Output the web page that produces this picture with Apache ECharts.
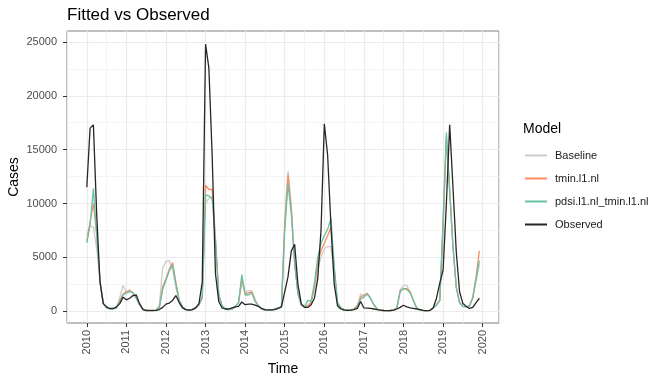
<!DOCTYPE html>
<html>
<head>
<meta charset="utf-8">
<script src="https://cdn.jsdelivr.net/npm/echarts@6/dist/echarts.min.js"></script>
<style>
html,body{margin:0;padding:0;background:#fff;}
#chart{width:672px;height:384px;}
</style>
</head>
<body>
<div id="chart"></div>
<script>
// Monthly series, Jan 2010 .. Dec 2019
const startYear = 2010;
const yearTicks = [2010, 2011, 2012, 2013, 2014, 2015, 2016, 2017, 2018, 2019, 2020];
const caseTicks = [0, 5000, 10000, 15000, 20000, 25000];
const seriesNames = ['Baseline', 'tmin.l1.nl', 'pdsi.l1.nl_tmin.l1.nl', 'Observed'];

const baseline = [
  7100, 7900, 7800, 5800, 2800, 700, 300, 200, 200, 300, 1300, 2400,
  1700, 1800, 1700, 1200, 600, 200, 100, 80, 80, 100, 600, 4000,
  4600, 4700, 3900, 2200, 1000, 400, 150, 100, 150, 300, 600, 1200,
  10000, 10500, 10500, 6500, 1500, 500, 200, 150, 200, 400, 800, 2600,
  1800, 1900, 1900, 1100, 500, 200, 100, 80, 100, 200, 300, 400,
  8500, 13000, 9800, 4600, 1650, 560, 400, 500, 800, 2000, 4000, 5000,
  5800, 6000, 6000, 3500, 700, 300, 150, 100, 100, 200, 500, 1600,
  1400, 1600, 1200, 600, 200, 80, 60, 50, 60, 100, 300, 2000,
  2400, 2400, 1800, 1000, 300, 100, 50, 40, 60, 300, 600, 1000,
  7500, 16000, 11500, 6000, 2200, 800, 450, 400, 500, 1200, 2800, 4300
];
const tmin = [
  6500, 8300, 10000, 7200, 2800, 700, 300, 200, 200, 300, 1000, 1600,
  1800, 1950, 1700, 1200, 600, 200, 100, 80, 80, 100, 350, 2300,
  3000, 3900, 4500, 2700, 1000, 400, 150, 100, 150, 300, 600, 1300,
  11700, 11300, 11300, 6800, 1500, 500, 200, 150, 200, 400, 800, 3000,
  1600, 1700, 1800, 1000, 500, 200, 100, 80, 100, 200, 300, 400,
  8000, 12700, 9400, 4500, 1650, 560, 400, 500, 850, 2300, 4500, 5600,
  6300, 7000, 7800, 4000, 800, 300, 150, 100, 100, 200, 500, 1300,
  1500, 1650, 1200, 600, 200, 80, 60, 50, 60, 100, 300, 1900,
  2100, 2100, 1800, 1000, 300, 100, 50, 40, 60, 300, 600, 1000,
  8000, 16200, 11300, 6000, 2200, 800, 450, 400, 500, 1300, 3200, 5600
];
const pdsiTmin = [
  6350, 8000, 11400, 7000, 2800, 700, 300, 200, 200, 300, 900, 1500,
  1700, 1850, 1700, 1200, 600, 200, 100, 80, 80, 100, 300, 2000,
  2900, 3700, 4300, 2500, 1000, 400, 150, 100, 150, 300, 600, 1300,
  10800, 10700, 10500, 6500, 1500, 500, 200, 150, 200, 400, 800, 3400,
  1500, 1500, 1700, 900, 500, 200, 100, 80, 100, 200, 300, 400,
  7500, 11800, 9000, 4500, 1650, 560, 400, 1000, 900, 2600, 5000, 6300,
  7000, 7600, 8600, 4200, 800, 300, 150, 100, 100, 200, 400, 1100,
  1300, 1600, 1200, 600, 200, 80, 60, 50, 60, 100, 300, 1800,
  2100, 2000, 1700, 1000, 300, 100, 50, 40, 60, 300, 550, 1000,
  8500, 16600, 11000, 6000, 2200, 800, 450, 400, 500, 1200, 3000, 4700
];
const observed = [
  11500, 17000, 17300, 9000, 2700, 700, 400, 250, 250, 400, 700, 1300,
  1050, 1200, 1450, 1500, 700, 150, 60, 50, 50, 80, 150, 350,
  650, 750, 1000, 1450, 800, 300, 150, 100, 150, 300, 700, 2700,
  24800, 22600, 14500, 3500, 900, 300, 200, 200, 300, 400, 450, 850,
  600, 650, 650, 550, 450, 250, 150, 120, 120, 150, 250, 400,
  1800, 3200, 5600, 6200, 2500, 700, 350, 350, 600, 1200, 3000, 7500,
  17400, 14500, 8000, 2500, 500, 200, 100, 80, 100, 150, 250, 900,
  300, 280, 250, 200, 150, 100, 60, 50, 60, 100, 200, 350,
  550, 400, 300, 250, 200, 150, 80, 50, 80, 300, 1200, 2600,
  3800, 10000, 17300, 11500, 5500, 1800, 700, 450, 250, 350, 800, 1200
];

const colors = ['#cccccc', '#fc8d62', '#66c2a5', '#262626'];
const valuesList = [baseline, tmin, pdsiTmin, observed];

function toPairs(arr) {
  return arr.map((v, i) => [startYear + i / 12, v]);
}

const chart = echarts.init(document.getElementById('chart'), null, {renderer: 'canvas'});
const font = 'Liberation Sans, Arial, sans-serif';
const X_MIN = 2009.5, X_MAX = 2020.4125, Y_MIN = -1100, Y_MAX = 26020;
const MAJOR = '#ebebeb', MINOR = '#f1f1f1', NONE = 'rgba(0,0,0,0)';

// minor grid colours, cycled along ticks (x every 0.5 yr from 2009.5; y every 100 from -1100)
const xMinorColors = [MINOR, NONE];
const yMinorColors = [];
for (let k = 0; k < 50; k++) yMinorColors.push(k === 36 ? MINOR : NONE);

chart.setOption({
  animation: false,
  backgroundColor: '#ffffff',
  title: [
    {text: 'Fitted vs Observed', left: 62, top: 2,
     textStyle: {fontFamily: font, fontSize: 17, fontWeight: 'normal', color: '#000'}},
    {text: 'Model', left: 518, top: 117,
     textStyle: {fontFamily: font, fontSize: 14, fontWeight: 'normal', color: '#000'}}
  ],
  legend: {
    orient: 'vertical', left: 520, top: 145,
    itemWidth: 22, itemHeight: 2, itemGap: 12,
    icon: 'rect',
    data: seriesNames,
    textStyle: {fontFamily: font, fontSize: 11, color: '#1a1a1a', padding: [0, 0, 0, 3]}
  },
  grid: {left: 67, right: 173, top: 31, bottom: 61, show: true, containLabel: false,
         outerBoundsMode: 'none',
         borderColor: '#808080', borderWidth: 1, backgroundColor: 'transparent'},
  xAxis: [{
    type: 'value', min: X_MIN, max: X_MAX, position: 'bottom',
    name: 'Time', nameLocation: 'middle', nameGap: 39, nameMoveOverlap: false,
    nameTextStyle: {fontFamily: font, fontSize: 14, color: '#000'},
    axisLine: {show: false, onZero: false},
    axisTick: {show: true, length: 4, lineStyle: {color: '#333'}, customValues: yearTicks},
    axisLabel: {rotate: 90, margin: 7, fontFamily: font, fontSize: 11, color: '#4d4d4d',
                customValues: yearTicks, formatter: v => String(Math.round(v))},
    splitLine: {show: true, lineStyle: {color: MAJOR, width: 1.2}}
  }, {
    type: 'value', min: X_MIN, max: X_MAX, interval: 0.5, position: 'top',
    axisLine: {show: false, onZero: false}, axisTick: {show: false}, axisLabel: {show: false},
    splitLine: {show: true, lineStyle: {color: xMinorColors, width: 0.8}}
  }],
  yAxis: [{
    type: 'value', min: Y_MIN, max: Y_MAX, position: 'left',
    name: 'Cases', nameLocation: 'middle', nameGap: 46, nameMoveOverlap: false,
    nameTextStyle: {fontFamily: font, fontSize: 14, color: '#000'},
    axisLine: {show: false, onZero: false},
    axisTick: {show: true, length: 4, lineStyle: {color: '#333'}, customValues: caseTicks},
    axisLabel: {margin: 10, fontFamily: font, fontSize: 11, color: '#4d4d4d',
                customValues: caseTicks, formatter: v => String(v)},
    splitLine: {show: true, lineStyle: {color: MAJOR, width: 1.2}}
  }, {
    type: 'value', min: Y_MIN, max: Y_MAX, interval: 100, position: 'right',
    axisLine: {show: false, onZero: false}, axisTick: {show: false}, axisLabel: {show: false},
    splitLine: {show: true, lineStyle: {color: yMinorColors, width: 0.8}}
  }],
  series: seriesNames.map((name, k) => ({
    name: name, type: 'line', data: toPairs(valuesList[k]),
    xAxisIndex: 0, yAxisIndex: 0,
    showSymbol: false, symbol: 'none',
    lineStyle: {color: colors[k], width: 1.3},
    itemStyle: {color: colors[k]},
    z: 2 + k
  }))
});
</script>
</body>
</html>
